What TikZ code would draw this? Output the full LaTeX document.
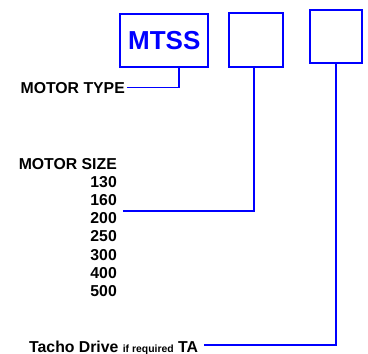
\documentclass[tikz,border=0pt]{standalone}
\usepackage{fontspec}
\setmainfont{Liberation Sans}
\usepackage{xcolor}
\usetikzlibrary{calc,positioning}
\definecolor{codeblue}{RGB}{0,0,255}
\tikzset{codebox/.style={draw=codeblue,line width=1.8pt,inner sep=0pt},
  lead/.style={draw=codeblue,line width=1.8pt},
  lbl/.style={font=\bfseries\fontsize{15.8}{18}\selectfont,inner sep=0pt}}

\begin{document}
\begin{tikzpicture}[x=1pt,y=-1pt]
\useasboundingbox (0,0) rectangle (368,354);
\node[codebox,minimum width=88.2pt,minimum height=53.2pt,text=codeblue,font=\bfseries\fontsize{26}{30}\selectfont] (mtss) at (164.3,40.2) {MTSS};
\node[codebox,minimum width=54.2pt,minimum height=54.2pt] (sizebox) at (256,40) {};
\node[codebox,minimum width=52.2pt,minimum height=53.2pt] (tachobox) at (336,36.5) {};
\node[lbl,anchor=base east] (mtype) at (125,93) {MOTOR TYPE};
\node[lbl,anchor=base east] (msize) at (117,169) {MOTOR SIZE};
\foreach \s [count=\i from 0] in {130,160,200,250,300,400,500}
  \node[lbl,anchor=base east] (s\s) at (117,187+18.33*\i) {\s};
\node[lbl,anchor=base west] (tacho) at (29,352) {Tacho Drive {\fontsize{10.4}{12}\selectfont if required} TA};
\coordinate (sizetap) at (123,211);
\draw[lead] ([xshift=2pt]mtype.east) -| ([xshift=14.7pt]mtss.south);
\draw[lead] (sizetap) -| ([xshift=-2pt]sizebox.south);
\draw[lead] ([xshift=6pt,yshift=2.5pt]tacho.east) -| (tachobox.south);
\end{tikzpicture}
\end{document}
